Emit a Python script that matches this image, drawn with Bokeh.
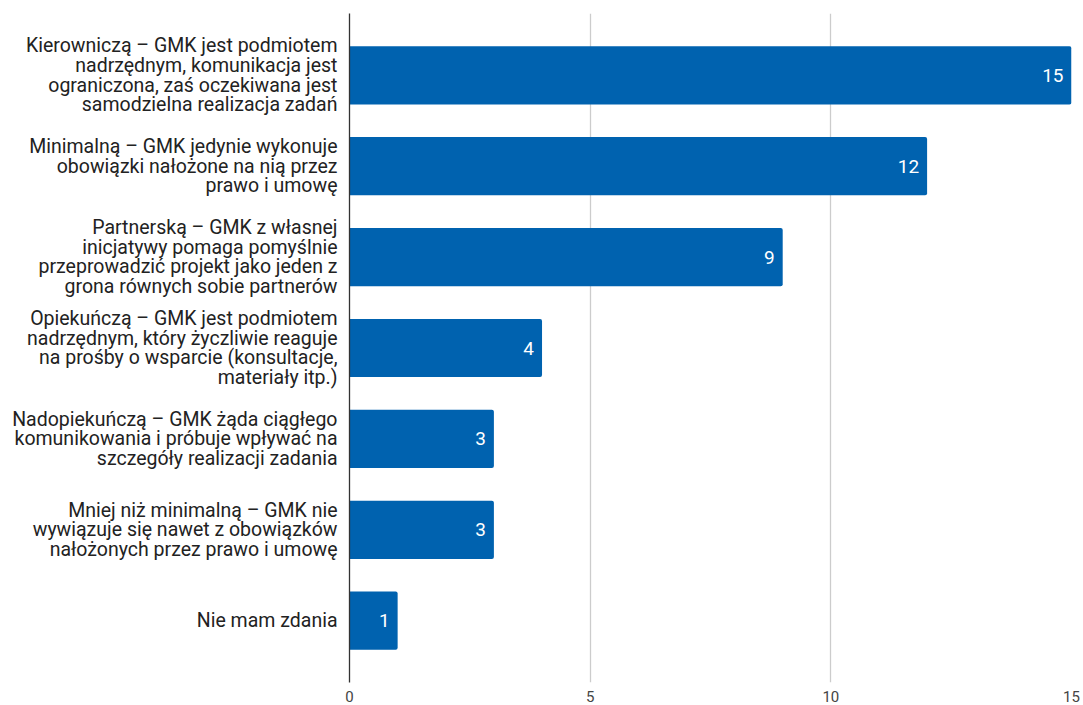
from bokeh.plotting import figure
from bokeh.models import ColumnDataSource, FactorRange, FixedTicker
from bokeh.core.properties import value
from bokeh.embed import file_html
from bokeh.resources import INLINE

categories = [
    "Kierowniczą – GMK jest podmiotem\nnadrzędnym, komunikacja jest\nograniczona, zaś oczekiwana jest\nsamodzielna realizacja zadań",
    "Minimalną – GMK jedynie wykonuje\nobowiązki nałożone na nią przez\nprawo i umowę",
    "Partnerską – GMK z własnej\ninicjatywy pomaga pomyślnie\nprzeprowadzić projekt jako jeden z\ngrona równych sobie partnerów",
    "Opiekuńczą – GMK jest podmiotem\nnadrzędnym, który życzliwie reaguje\nna prośby o wsparcie (konsultacje,\nmateriały itp.)",
    "Nadopiekuńczą – GMK żąda ciągłego\nkomunikowania i próbuje wpływać na\nszczegóły realizacji zadania",
    "Mniej niż minimalną – GMK nie\nwywiązuje się nawet z obowiązków\nnałożonych przez prawo i umowę",
    "Nie mam zdania",
]
values = [15, 12, 9, 4, 3, 3, 1]
x_ticks = [0, 5, 10, 15]

FONT = "Roboto"
BAR = "#0062AF"

src = ColumnDataSource(dict(cat=categories, val=values, lab=[str(v) for v in values]))

p = figure(
    y_range=FactorRange(factors=list(reversed(categories)), range_padding=0.18,
                        range_padding_units="absolute"),
    x_range=(0, 15),
    frame_width=722, frame_height=669,
    min_border_left=349, min_border_right=10, min_border_top=13, min_border_bottom=0,
    output_backend="svg", toolbar_location=None,
)
p.outline_line_color = None
p.background_fill_color = "white"
p.border_fill_color = "white"

p.hbar(y="cat", right="val", left=0, height=0.64, source=src,
       fill_color=BAR, line_color=None, border_radius=(0, 2, 2, 0))

p.text(x="val", y="cat", text="lab", source=src, x_offset=-8,
       text_align="right", text_baseline="middle", text_color="white",
       text_font=value(FONT), text_font_size="19px")

p.xaxis.ticker = FixedTicker(ticks=x_ticks)
p.xaxis.axis_line_color = None
p.xaxis.major_tick_line_color = None
p.xaxis.minor_tick_line_color = None
p.xaxis.major_tick_out = 0
p.xaxis.major_tick_in = 0
p.xaxis.major_label_text_font = FONT
p.xaxis.major_label_text_font_size = "15px"
p.xaxis.major_label_text_color = "#444444"
p.xaxis.major_label_standoff = 8

p.yaxis.axis_line_color = "#333333"
p.yaxis.axis_line_width = 1.3
p.yaxis.major_tick_line_color = None
p.yaxis.minor_tick_line_color = None
p.yaxis.major_tick_out = 0
p.yaxis.major_tick_in = 0
p.yaxis.major_label_text_font = FONT
p.yaxis.major_label_text_font_size = "19.5px"
p.yaxis.major_label_text_color = "#222222"
p.yaxis.major_label_standoff = 12
p.yaxis.major_label_text_line_height = 0.86

p.ygrid.grid_line_color = None
p.xgrid.grid_line_color = "#cccccc"
p.xgrid.grid_line_width = 1.3

open("out.html", "w").write(file_html(p, INLINE))
